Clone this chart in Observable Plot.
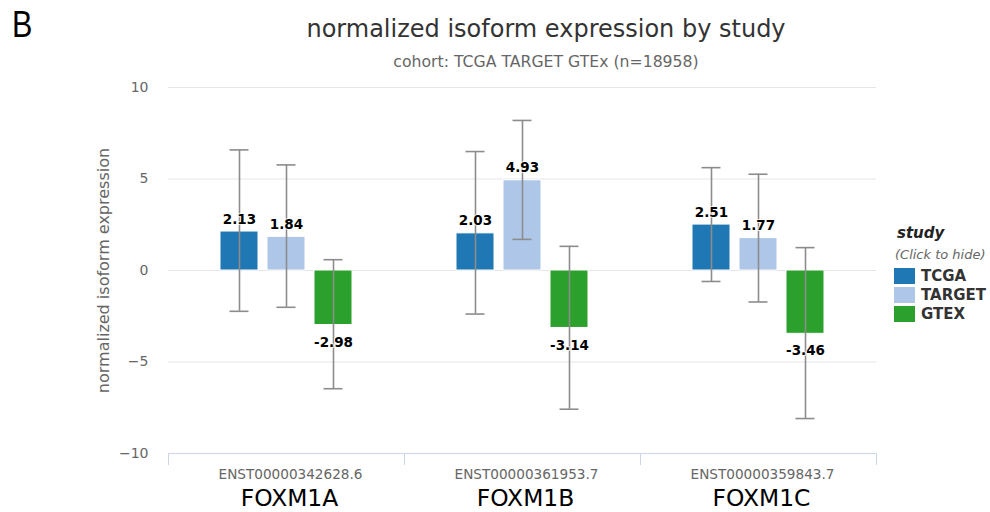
<!DOCTYPE html>
<html>
<head>
<meta charset="utf-8">
<script src="https://cdn.jsdelivr.net/npm/d3@7"></script>
<script src="https://cdn.jsdelivr.net/npm/@observablehq/plot@0.6"></script>
<style>
  html, body { margin: 0; padding: 0; background: #fff; }
  #wrap { position: relative; width: 990px; height: 512px; overflow: hidden; font-family: "DejaVu Sans", sans-serif; }
  #wrap svg { position: absolute; left: 0; top: 0; }
  .abs { position: absolute; white-space: nowrap; line-height: 1; }
  .center { transform: translateX(-50%); }
  .legrow { position: absolute; left: 894px; height: 16px; }
  .sw { position: absolute; left: 0; top: 0; width: 21px; height: 16px; }
  .lab { position: absolute; left: 27px; top: 1px; font-weight: bold; font-size: 15px; color: #333; line-height: 1; }
</style>
</head>
<body>
<div id="wrap">
  <div class="abs" style="left:12px; top:7px; font-family:'Liberation Sans Narrow','Liberation Sans',sans-serif; font-size:36px; color:#000; transform:scaleX(0.85); transform-origin:left top;">B</div>
  <div class="abs center" style="left:546px; top:17px; font-size:24px; color:#333;">normalized isoform expression by study</div>
  <div class="abs center" style="left:546px; top:54px; font-size:15.7px; color:#666;">cohort: TCGA TARGET GTEx (n=18958)</div>
  <div class="abs" style="left:897px; top:226px; font-size:15px; font-weight:bold; font-style:italic; color:#222;">study</div>
  <div class="abs" style="left:895px; top:248px; font-size:13px; font-style:italic; color:#666;">(Click to hide)</div>
  <div id="legend"></div>
</div>
<script>
// ---- data ----
const isoforms = ["FOXM1A", "FOXM1B", "FOXM1C"];
const transcripts = ["ENST00000342628.6", "ENST00000361953.7", "ENST00000359843.7"];
const studies = ["TCGA", "TARGET", "GTEX"];
const colors = ["#1f77b4", "#aec7e8", "#2ca02c"];

const tcgaMean   = [2.13, 2.03, 2.51];
const targetMean = [1.84, 4.93, 1.77];
const gtexMean   = [-2.98, -3.14, -3.46];

const tcgaLow    = [-2.23, -2.38, -0.60];
const tcgaHigh   = [6.59, 6.50, 5.62];
const targetLow  = [-2.01, 1.70, -1.72];
const targetHigh = [5.77, 8.20, 5.26];
const gtexLow    = [-6.46, -7.58, -8.09];
const gtexHigh   = [0.59, 1.32, 1.25];

const yTicks = [-10, -5, 0, 5, 10];

// ---- table ----
const seriesMean = [tcgaMean, targetMean, gtexMean];
const seriesLow = [tcgaLow, targetLow, gtexLow];
const seriesHigh = [tcgaHigh, targetHigh, gtexHigh];
const rows = [];
isoforms.forEach((iso, i) => {
  studies.forEach((s, j) => {
    rows.push({isoform: iso, study: s, mean: seriesMean[j][i], lo: seriesLow[j][i], hi: seriesHigh[j][i]});
  });
});
const enstOf = Object.fromEntries(isoforms.map((d, i) => [d, transcripts[i]]));

const chart = Plot.plot({
  width: 990,
  height: 512,
  marginTop: 87,
  marginBottom: 59,
  marginLeft: 167,
  marginRight: 114,
  style: {fontFamily: "DejaVu Sans, sans-serif", fontSize: "14px", background: "transparent", overflow: "visible"},
  fx: {domain: isoforms, padding: 0},
  x: {domain: studies, paddingInner: 0.2, paddingOuter: 1.11, axis: null},
  y: {domain: [-10, 10]},
  color: {domain: studies, range: colors},
  marks: [
    Plot.gridY(yTicks.filter(d => d > -10), {stroke: "#e6e6e6", strokeOpacity: 1, strokeWidth: 1}),
    Plot.ruleY([-10], {stroke: "#ccd6eb", strokeWidth: 1}),
    Plot.frame({anchor: "left", stroke: "#ccd6eb", insetTop: 366, insetBottom: -11}),
    Plot.frame({anchor: "right", stroke: "#ccd6eb", insetTop: 366, insetBottom: -11}),
    Plot.axisY({
      ticks: yTicks, tickSize: 0, tickPadding: 20, fontSize: 14, fill: "#666",
      label: "normalized isoform expression", labelAnchor: "center", labelArrow: "none", labelOffset: 71
    }),
    Plot.axisFx({anchor: "bottom", tickSize: 0, tickPadding: 16, fontSize: 13.6, fill: "#666", dx: 4, tickFormat: d => enstOf[d], label: null}),
    Plot.axisFx({anchor: "bottom", tickSize: 0, tickPadding: 36, fontSize: 23.4, fill: "#000", dx: 3, tickFormat: d => d, label: null}),
    Plot.barY(rows, {fx: "isoform", x: "study", y: "mean", fill: "study", stroke: "#fff", strokeWidth: 1}),
    Plot.ruleX(rows, {fx: "isoform", x: "study", y1: "lo", y2: "hi", stroke: "#8c8c8c", strokeWidth: 1.6}),
    Plot.tickY(rows, {fx: "isoform", x: "study", y: "lo", stroke: "#8c8c8c", strokeWidth: 1.6, insetLeft: 9.5, insetRight: 9.5}),
    Plot.tickY(rows, {fx: "isoform", x: "study", y: "hi", stroke: "#8c8c8c", strokeWidth: 1.6, insetLeft: 9.5, insetRight: 9.5}),
    Plot.text(rows.filter(d => d.mean >= 0), {
      fx: "isoform", x: "study", y: "mean", text: d => d.mean.toFixed(2),
      lineAnchor: "bottom", dy: -8, fontWeight: "bold", fontSize: 13.5, fill: "#000",
      stroke: "#fff", strokeWidth: 2, strokeOpacity: 0.8
    }),
    Plot.text(rows.filter(d => d.mean < 0), {
      fx: "isoform", x: "study", y: "mean", text: d => d.mean.toFixed(2),
      lineAnchor: "top", dy: 12, fontWeight: "bold", fontSize: 13.5, fill: "#000",
      stroke: "#fff", strokeWidth: 2, strokeOpacity: 0.8
    })
  ]
});
document.getElementById("wrap").prepend(chart);

// the y-axis title is a little larger than the tick labels
chart.querySelectorAll("[aria-label='y-axis label'] text").forEach(t => t.setAttribute("font-size", "16"));

// legend
const legend = document.getElementById("legend");
studies.forEach((s, i) => {
  const row = document.createElement("div");
  row.className = "legrow";
  row.style.top = (268 + i * 19) + "px";
  const sw = document.createElement("div");
  sw.className = "sw";
  sw.style.background = colors[i];
  const lab = document.createElement("div");
  lab.className = "lab";
  lab.textContent = s;
  row.appendChild(sw);
  row.appendChild(lab);
  legend.appendChild(row);
});
</script>
</body>
</html>
